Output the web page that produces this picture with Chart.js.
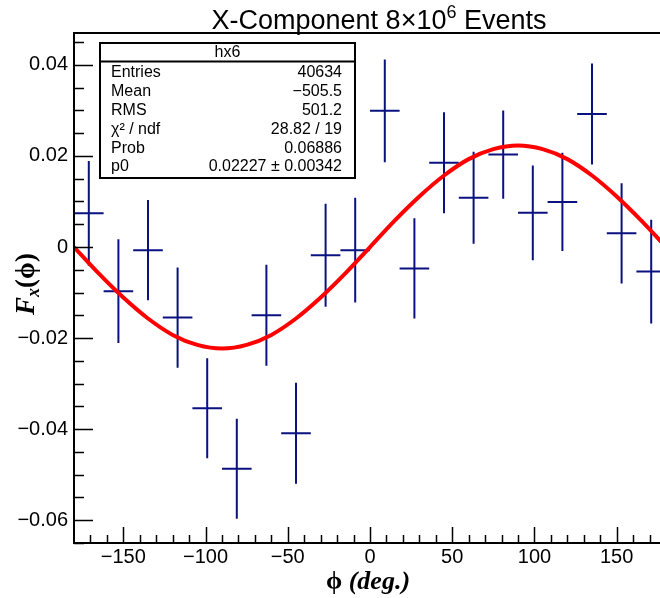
<!DOCTYPE html>
<html>
<head>
<meta charset="utf-8">
<script src="https://cdn.jsdelivr.net/npm/chart.js@4.4.1/dist/chart.umd.min.js"></script>
<style>
  html, body { margin: 0; padding: 0; background: #fff; overflow: hidden; }
  #wrap { width: 670px; height: 598px; }
</style>
</head>
<body>
<div id="wrap"><canvas id="grafico" width="670" height="598"></canvas></div>
<script>
// histogram hx6 : bin centres (deg), contents and errors
const binCenters = [-171, -153, -135, -117, -99, -81, -63, -45, -27, -9, 9, 27, 45, 63, 81, 99, 117, 135, 153, 171];
const binValues  = [0.0074, -0.0097, -0.0007, -0.0155, -0.0354, -0.0487, -0.0150, -0.0409, -0.0018, -0.0007,
                    0.0299, -0.0047, 0.0185, 0.0108, 0.0203, 0.0075, 0.0099, 0.0292, 0.0030, -0.0054];
const binErrors  = [0.0115, 0.0114, 0.0110, 0.0110, 0.0110, 0.0110, 0.0111, 0.0111, 0.0113, 0.0115,
                    0.0113, 0.0110, 0.0111, 0.0101, 0.0097, 0.0104, 0.0108, 0.0111, 0.0110, 0.0114];
const binHalfWidth = 9;

// fitted curve
const fitPhi    = [-180, -165, -150, -135, -120, -105, -90, -75, -60, -45, -30, -15, 0,
                   15, 30, 45, 60, 75, 90, 105, 120, 135, 150, 165, 180];
const fitValues = [0, -0.0058, -0.0111, -0.0157, -0.0193, -0.0215, -0.0223, -0.0215, -0.0193, -0.0157, -0.0111, -0.0058, 0,
                   0.0058, 0.0111, 0.0157, 0.0193, 0.0215, 0.0223, 0.0215, 0.0193, 0.0157, 0.0111, 0.0058, 0];

const xTicks = [-150, -100, -50, 0, 50, 100, 150];
const yTicks = [-0.06, -0.04, -0.02, 0, 0.02, 0.04];

const statName   = 'hx6';
const statLabels = ['Entries', 'Mean', 'RMS', 'χ² / ndf', 'Prob', 'p0'];
const statValues = ['40634', '−505.5', '501.2', '28.82 / 19', '0.06886', '0.02227 ± 0.00342'];

const SANS = "'Liberation Sans', Arial, Helvetica, sans-serif";
const SERIF = "'Liberation Serif', 'Times New Roman', serif";
const BLUE = '#0a1280';

function menos(s) { return s.replace('-', '\u2212'); }

// draws a row of text pieces with different fonts, centred on x
function textoMixto(ctx, piezas, x, y) {
  let total = 0;
  piezas.forEach(p => { ctx.font = p.font; p.w = ctx.measureText(p.text).width; total += p.w; });
  let cx = x - total / 2;
  ctx.textAlign = 'left';
  ctx.textBaseline = 'alphabetic';
  piezas.forEach(p => { ctx.font = p.font; ctx.fillText(p.text, cx, y + (p.dy || 0)); cx += p.w; });
}

const barrasError = {
  id: 'barrasError',
  beforeDatasetsDraw(chart) {
    const { ctx, chartArea: a, scales: { x, y } } = chart;
    ctx.save();
    ctx.beginPath();
    ctx.rect(a.left, a.top, a.right - a.left, a.bottom - a.top);
    ctx.clip();
    ctx.strokeStyle = BLUE;
    ctx.lineWidth = 2;
    binCenters.forEach((c, i) => {
      const px = x.getPixelForValue(c);
      const py = y.getPixelForValue(binValues[i]);
      ctx.beginPath();
      ctx.moveTo(x.getPixelForValue(c - binHalfWidth), py);
      ctx.lineTo(x.getPixelForValue(c + binHalfWidth), py);
      ctx.moveTo(px, y.getPixelForValue(binValues[i] + binErrors[i]));
      ctx.lineTo(px, y.getPixelForValue(binValues[i] - binErrors[i]));
      ctx.stroke();
    });
    ctx.restore();
  }
};

const marco = {
  id: 'marco',
  afterDraw(chart) {
    const { ctx, chartArea: a, scales: { x, y } } = chart;
    ctx.save();
    ctx.strokeStyle = '#000';
    ctx.lineWidth = 2;
    ctx.strokeRect(a.left, a.top, a.right - a.left, a.bottom - a.top);

    // ticks inside the frame
    ctx.lineWidth = 1.5;
    ctx.beginPath();
    for (let v = -170; v <= 170; v += 10) {
      const px = Math.round(x.getPixelForValue(v)) + 0.5;
      const len = xTicks.includes(v) ? 16 : 8;
      ctx.moveTo(px, a.bottom);
      ctx.lineTo(px, a.bottom - len);
    }
    for (let k = -13; k <= 9; k++) {
      const v = k * 0.005;
      const py = Math.round(y.getPixelForValue(v)) + 0.5;
      const len = (k % 4 === 0) ? 19 : 10;
      ctx.moveTo(a.left, py);
      ctx.lineTo(a.left + len, py);
    }
    ctx.stroke();

    ctx.fillStyle = '#000';
    // title
    textoMixto(ctx, [
      { text: 'X-Component 8×10', font: `27px ${SANS}` },
      { text: '6', font: `18px ${SANS}`, dy: -11 },
      { text: ' Events', font: `27px ${SANS}` }
    ], 379, 29);

    // x title
    textoMixto(ctx, [
      { text: 'ϕ ', font: `bold 26px ${SERIF}` },
      { text: '(deg.)', font: `italic bold 26px ${SERIF}` }
    ], 368, 589);

    // y title
    ctx.save();
    ctx.translate(34, 284);
    ctx.rotate(-Math.PI / 2);
    textoMixto(ctx, [
      { text: 'F', font: `italic bold 27px ${SERIF}` },
      { text: 'x', font: `italic bold 18px ${SERIF}`, dy: 5 },
      { text: '(ϕ)', font: `bold 27px ${SERIF}` }
    ], 0, 0);
    ctx.restore();

    // stats box
    const bx = 100, by = 43, bw = 255, bh = 135;
    ctx.fillStyle = '#fff';
    ctx.fillRect(bx, by, bw, bh);
    ctx.lineWidth = 2;
    ctx.strokeRect(bx, by, bw, bh);
    ctx.beginPath();
    ctx.moveTo(bx, 61.5);
    ctx.lineTo(bx + bw, 61.5);
    ctx.stroke();
    ctx.fillStyle = '#000';
    ctx.font = `16px ${SANS}`;
    ctx.textBaseline = 'middle';
    ctx.textAlign = 'center';
    ctx.fillText(statName, bx + bw / 2, 53);
    statLabels.forEach((lab, i) => {
      const ry = 73 + i * 18.8;
      ctx.textAlign = 'left';
      ctx.fillText(lab, 111, ry);
      ctx.textAlign = 'right';
      ctx.fillText(statValues[i], 342, ry);
    });
    ctx.restore();
  }
};

const ctx = document.getElementById('grafico').getContext('2d');
const chart = new Chart(ctx, {
  type: 'scatter',
  data: {
    datasets: [
      {
        label: 'fit',
        data: fitPhi.map((v, i) => ({ x: v, y: fitValues[i] })),
        showLine: true,
        borderColor: '#ff0000',
        borderWidth: 4,
        pointRadius: 0,
        cubicInterpolationMode: 'monotone',
        fill: false
      },
      {
        label: statName,
        data: binCenters.map((v, i) => ({ x: v, y: binValues[i] })),
        pointRadius: 0,
        showLine: false
      }
    ]
  },
  options: {
    responsive: false,
    animation: false,
    layout: { padding: { top: 33, right: 4, left: 0, bottom: 0 } },
    plugins: { legend: { display: false }, tooltip: { enabled: false } },
    scales: {
      x: {
        type: 'linear',
        min: -180,
        max: 180,
        grid: { display: false, drawTicks: false },
        border: { display: false },
        afterBuildTicks: s => { s.ticks = xTicks.map(v => ({ value: v })); },
        afterFit: s => { s.height = 55; },
        ticks: {
          autoSkip: false, maxRotation: 0, padding: 2, color: '#000',
          font: { family: SANS, size: 20 },
          callback: v => v === 0 ? '0' : menos(String(v))
        }
      },
      y: {
        type: 'linear',
        min: -0.065,
        max: 0.047,
        grid: { display: false, drawTicks: false },
        border: { display: false },
        afterBuildTicks: s => { s.ticks = yTicks.map(v => ({ value: v })); },
        afterFit: s => { s.width = 74; },
        ticks: {
          autoSkip: false, padding: 6, color: '#000',
          font: { family: SANS, size: 20 },
          callback: v => Math.abs(v) < 1e-9 ? '0' : menos(v.toFixed(2))
        }
      }
    }
  },
  plugins: [barrasError, marco]
});
</script>
</body>
</html>
